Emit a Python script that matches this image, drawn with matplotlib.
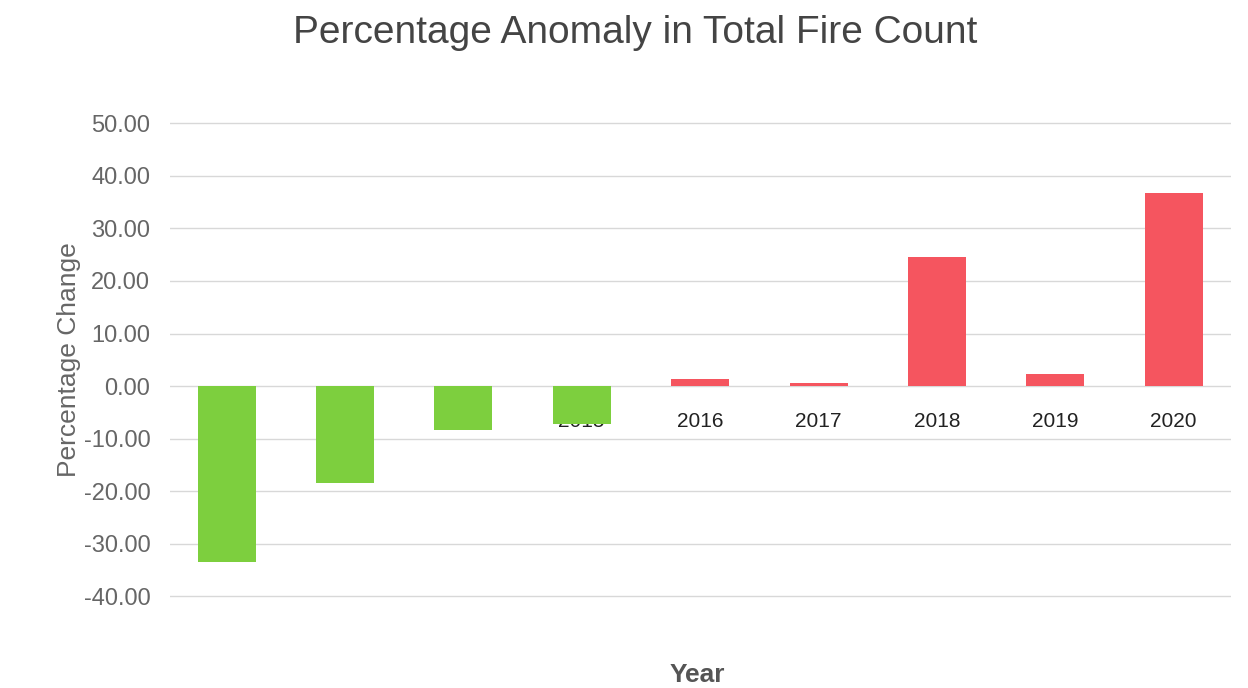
import matplotlib.pyplot as plt
import numpy as np

years = ["2012", "2013", "2014", "2015", "2016", "2017", "2018", "2019", "2020"]
pct_change = [-33.5, -18.4, -8.3, -7.2, 1.3, 0.6, 24.5, 2.3, 36.7]
yticks = [-40, -30, -20, -10, 0, 10, 20, 30, 40, 50]

green = "#7dcf3e"
red = "#f5555f"
colors = [green if v < 0 else red for v in pct_change]

plt.rcParams["font.family"] = ["Liberation Sans", "DejaVu Sans"]

fig = plt.figure(figsize=(12.48, 6.88), dpi=100)
ax = fig.add_axes([0.136, 0.118, 0.85, 0.718])

x = np.arange(len(years))
ax.bar(x, pct_change, width=0.49, color=colors, zorder=3)

ax.set_xlim(-0.48, len(years) - 0.52)
ax.set_ylim(-42, 52)
ax.set_yticks(yticks)
ax.set_yticklabels([f"{v:.2f}" for v in yticks])
ax.grid(axis="y", color="#d8d8d8", linewidth=1)
ax.set_axisbelow(True)

# year labels sit on the zero line, behind the bars
ax.set_xticks(x)
ax.set_xticklabels(years)
ax.spines["bottom"].set_position(("data", 0))
for s in ["top", "right", "left", "bottom"]:
    ax.spines[s].set_visible(False)
ax.tick_params(axis="x", length=0, pad=19, labelsize=15, labelcolor="#222222")
ax.tick_params(axis="y", length=0, pad=14, labelsize=17, labelcolor="#666666")

ax.set_ylabel("Percentage Change", fontsize=19, color="#666666", labelpad=2)

fig.text(0.509, 0.952, "Percentage Anomaly in Total Fire Count", ha="center", va="center",
         fontsize=28, color="#444444")
fig.text(0.559, 0.022, "Year", ha="center", va="center_baseline", fontsize=19, fontweight="bold",
         color="#555555")

fig.savefig("out.png", dpi=100, facecolor="white")
